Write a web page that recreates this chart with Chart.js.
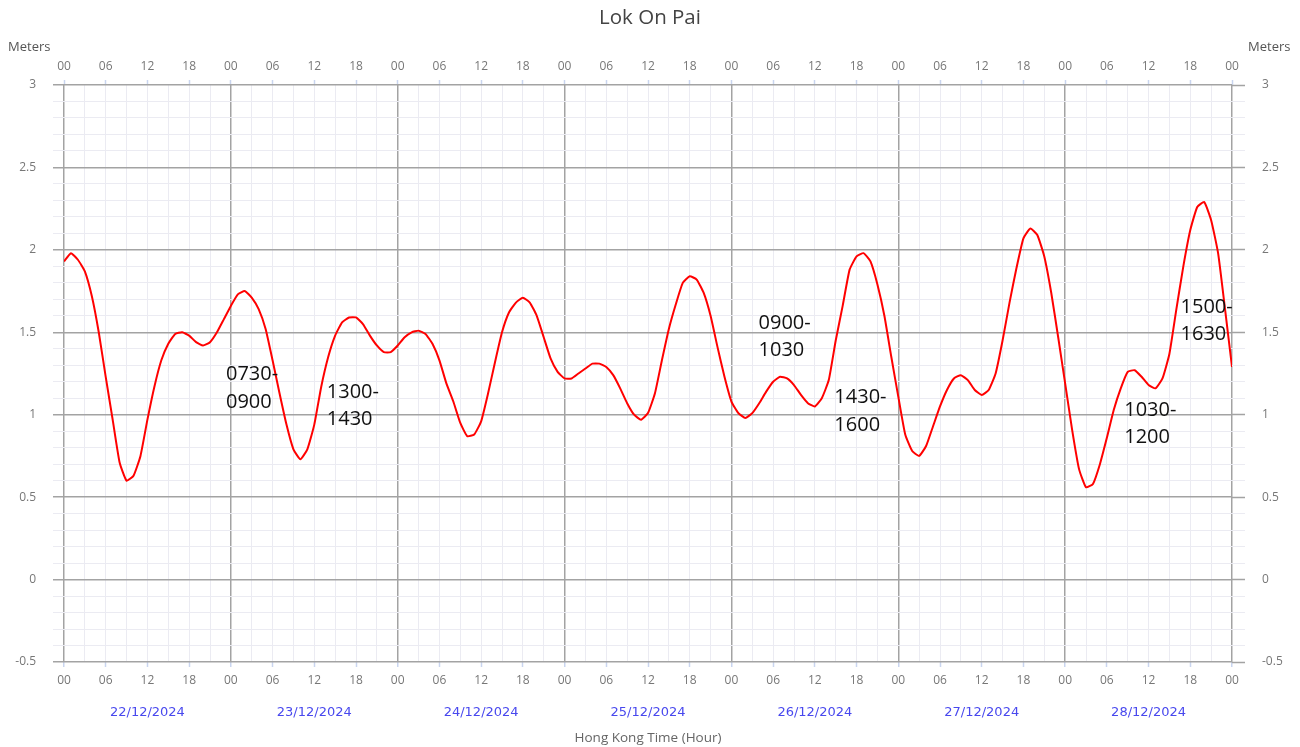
<!DOCTYPE html>
<html>
<head>
<meta charset="utf-8">
<script src="https://cdn.jsdelivr.net/npm/chart.js@4"></script>
<style>
  html, body { margin: 0; padding: 0; background: #fff; }
  canvas { display: block; }
</style>
</head>
<body>
<canvas id="tide" width="1300" height="747"></canvas>
<script>
// Predicted hourly tide height at Lok On Pai, 22–28 Dec 2024 (metres)
const stationName = 'Lok On Pai';
const dateLabels = ['22/12/2024', '23/12/2024', '24/12/2024', '25/12/2024', '26/12/2024', '27/12/2024', '28/12/2024'];
const hourLabels = ['00', '06', '12', '18'];
const tideLevels = [
  1.93, 1.98, 1.94, 1.87, 1.72, 1.50, 1.23, 0.97, 0.71, 0.60, 0.63, 0.75,
  0.97, 1.17, 1.33, 1.43, 1.49, 1.50, 1.48, 1.44, 1.42, 1.44, 1.50, 1.58,
  1.66, 1.73, 1.75, 1.71, 1.64, 1.52, 1.33, 1.13, 0.94, 0.79, 0.73, 0.79,
  0.94, 1.17, 1.35, 1.48, 1.56, 1.59, 1.59, 1.55, 1.48, 1.42, 1.38, 1.38,
  1.42, 1.47, 1.50, 1.51, 1.49, 1.43, 1.33, 1.19, 1.08, 0.95, 0.87, 0.88,
  0.96, 1.13, 1.32, 1.50, 1.62, 1.68, 1.71, 1.68, 1.60, 1.47, 1.34, 1.26,
  1.22, 1.22, 1.25, 1.28, 1.31, 1.31, 1.29, 1.24, 1.16, 1.07, 1.00, 0.97,
  1.01, 1.13, 1.33, 1.52, 1.67, 1.80, 1.84, 1.82, 1.74, 1.60, 1.41, 1.23,
  1.08, 1.01, 0.98, 1.01, 1.07, 1.14, 1.20, 1.23, 1.22, 1.18, 1.12, 1.07,
  1.05, 1.10, 1.21, 1.45, 1.66, 1.88, 1.96, 1.98, 1.93, 1.79, 1.60, 1.35,
  1.11, 0.88, 0.78, 0.75, 0.81, 0.93, 1.05, 1.15, 1.22, 1.24, 1.21, 1.15,
  1.12, 1.15, 1.25, 1.45, 1.68, 1.89, 2.07, 2.13, 2.09, 1.96, 1.74, 1.47,
  1.19, 0.91, 0.67, 0.56, 0.58, 0.70, 0.86, 1.03, 1.16, 1.26, 1.27, 1.23,
  1.18, 1.16, 1.22, 1.37, 1.64, 1.90, 2.12, 2.26, 2.29, 2.18, 1.98, 1.64,
  1.29
];
const noteTexts = [
  ['0730-', '0900'],
  ['1300-', '1430'],
  ['0900-', '1030'],
  ['1430-', '1600'],
  ['1030-', '1200'],
  ['1500-', '1630']
];

// anchors (hour since 22/12 00:00, metres) for the period notes
const noteAnchors = [[23.3, 1.245], [37.8, 1.136], [99.9, 1.555], [110.8, 1.103], [152.5, 1.027], [160.6, 1.652]];

const FONT = "'Open Sans', 'DejaVu Sans', sans-serif";
const MAJOR = '#a3a3a3';
const MINOR = '#ebebf2';
const TICK_BLUE = '#c9d5ef';
const LABEL_GREY = '#777777';

Chart.defaults.font.family = FONT;

const hourTick = v => {
  if (v % 6 !== 0) return '';
  return hourLabels[(v % 24) / 6];
};
const isMajorLevel = v => Math.round(v * 10) % 5 === 0;

const xGridColor = ctx => (ctx.tick && ctx.tick.value % 24 === 0) ? MAJOR : MINOR;
const xGridWidth = ctx => (ctx.tick && ctx.tick.value % 24 === 0) ? 1.5 : 1;
const xTickColor = ctx => (ctx.tick && ctx.tick.value % 6 === 0) ? TICK_BLUE : 'rgba(0,0,0,0)';
const yGridColor = ctx => (ctx.tick && isMajorLevel(ctx.tick.value)) ? MAJOR : MINOR;
const yGridWidth = ctx => (ctx.tick && isMajorLevel(ctx.tick.value)) ? 1.5 : 1;
const yTick = v => {
  const r = Math.round(v * 10);
  return r % 5 === 0 ? String(r / 10) : '';
};

const totalHours = (tideLevels.length - 1);

// extra texts: title, unit labels, axis title and period notes
const overlayText = {
  id: 'overlayText',
  afterDraw(chart) {
    const c = chart.ctx;
    const xs = chart.scales.x, ys = chart.scales.y;
    c.save();
    c.textBaseline = 'middle';

    c.fillStyle = '#444';
    c.font = '20.5px ' + FONT;
    c.textAlign = 'center';
    c.fillText(stationName, 650, 18);

    c.fillStyle = '#555';
    c.font = '13px ' + FONT;
    c.textAlign = 'left';
    c.fillText('Meters', 8, 47);
    c.fillText('Meters', 1248, 47);

    c.fillStyle = '#666';
    c.font = '13.5px ' + FONT;
    c.textAlign = 'center';
    c.fillText('Hong Kong Time (Hour)', 648, 738);

    c.fillStyle = '#111';
    c.font = '20px ' + FONT;
    c.textAlign = 'left';
    noteTexts.forEach((lines, i) => {
      const px = xs.getPixelForValue(noteAnchors[i][0]);
      const py = ys.getPixelForValue(noteAnchors[i][1]);
      lines.forEach((t, k) => c.fillText(t, px, py + k * 27.5));
    });
    c.restore();
  }
};

new Chart(document.getElementById('tide'), {
  type: 'line',
  data: {
    datasets: [{
      label: stationName,
      data: tideLevels.map((v, h) => ({ x: h, y: v })),
      borderColor: '#ff0000',
      borderWidth: 2,
      pointRadius: 0,
      tension: 0.15,
      fill: false,
      xAxisID: 'x',
      yAxisID: 'y'
    }]
  },
  options: {
    responsive: false,
    animation: false,
    layout: { padding: 0 },
    plugins: {
      legend: { display: false },
      title: { display: false },
      tooltip: { enabled: false }
    },
    scales: {
      x: {
        type: 'linear', position: 'bottom', weight: 0,
        min: 0, max: totalHours,
        border: { display: false },
        grid: { color: xGridColor, lineWidth: xGridWidth, tickColor: xTickColor, tickWidth: 1.5, tickLength: 5 },
        ticks: { stepSize: 3, autoSkip: false, maxRotation: 0, padding: 6, color: LABEL_GREY, font: { size: 12 }, callback: hourTick },
        afterFit: s => { s.height = 30; }
      },
      xDate: {
        type: 'linear', position: 'bottom', weight: 1,
        min: 0, max: totalHours,
        border: { display: false },
        grid: { display: false, drawTicks: false },
        ticks: { autoSkip: false, maxRotation: 0, padding: 13, color: '#4848ee',
                 font: { size: 13, family: "'DejaVu Sans', sans-serif" },
                 callback: v => dateLabels[(v - 12) / 24] },
        afterBuildTicks: s => { s.ticks = dateLabels.map((d, i) => ({ value: 12 + 24 * i })); },
        afterFit: s => { s.height = 55; }
      },
      xTop: {
        type: 'linear', position: 'top',
        min: 0, max: totalHours,
        border: { display: false },
        grid: { drawOnChartArea: false, color: 'rgba(0,0,0,0)', tickColor: xTickColor, tickWidth: 1.5, tickLength: 5 },
        ticks: { stepSize: 3, autoSkip: false, maxRotation: 0, padding: 6, color: LABEL_GREY, font: { size: 12 }, callback: hourTick },
        afterFit: s => { s.height = 85; }
      },
      y: {
        type: 'linear', position: 'left',
        min: -0.5, max: 3,
        border: { display: false },
        grid: { color: yGridColor, lineWidth: yGridWidth, tickColor: yGridColor, tickWidth: yGridWidth, tickLength: 11 },
        ticks: { stepSize: 0.1, autoSkip: false, padding: 17, color: LABEL_GREY, font: { size: 12 }, callback: yTick },
        afterFit: s => { s.width = 64; }
      },
      yRight: {
        type: 'linear', position: 'right',
        min: -0.5, max: 3,
        border: { display: false },
        grid: { drawOnChartArea: false, color: yGridColor, tickColor: yGridColor, tickWidth: yGridWidth, tickLength: 13 },
        ticks: { stepSize: 0.1, autoSkip: false, padding: 17, color: LABEL_GREY, font: { size: 12 }, callback: yTick },
        afterFit: s => { s.width = 68; }
      }
    }
  },
  plugins: [overlayText]
});
</script>
</body>
</html>
